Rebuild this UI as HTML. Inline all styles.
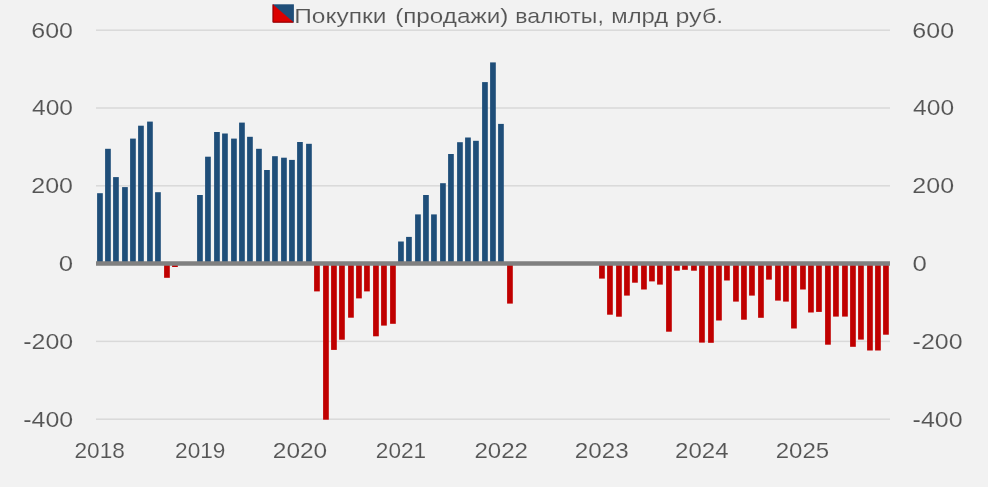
<!DOCTYPE html>
<html><head><meta charset="utf-8"><style>
html,body{margin:0;padding:0;background:#F2F2F2;}
body{width:988px;height:487px;overflow:hidden;}
svg{display:block;will-change:transform;}
.t{font-family:"Liberation Sans",sans-serif;font-size:22.2px;fill:#555555;stroke:#F2F2F2;stroke-width:0.12px;}
.ti{font-family:"Liberation Sans",sans-serif;font-size:20.5px;fill:#555555;stroke:#F2F2F2;stroke-width:0.12px;}
</style></head><body>
<svg width="988" height="487" viewBox="0 0 988 487">
<rect width="988" height="487" fill="#F2F2F2"/>
<rect x="96.0" y="29.45" width="794.0" height="1.5" fill="#D9D9D9"/>
<rect x="96.0" y="107.25" width="794.0" height="1.5" fill="#D9D9D9"/>
<rect x="96.0" y="185.05" width="794.0" height="1.5" fill="#D9D9D9"/>
<rect x="96.0" y="340.65" width="794.0" height="1.5" fill="#D9D9D9"/>
<rect x="96.0" y="418.45" width="794.0" height="1.5" fill="#D9D9D9"/>
<rect x="97.10" y="193.20" width="5.7" height="70.35" fill="#1F4E79"/>
<rect x="105.10" y="148.80" width="5.7" height="114.75" fill="#1F4E79"/>
<rect x="113.10" y="177.10" width="5.7" height="86.45" fill="#1F4E79"/>
<rect x="122.10" y="187.10" width="5.7" height="76.45" fill="#1F4E79"/>
<rect x="130.10" y="138.60" width="5.7" height="124.95" fill="#1F4E79"/>
<rect x="138.10" y="125.70" width="5.7" height="137.85" fill="#1F4E79"/>
<rect x="147.10" y="121.60" width="5.7" height="141.95" fill="#1F4E79"/>
<rect x="155.10" y="192.20" width="5.7" height="71.35" fill="#1F4E79"/>
<rect x="164.10" y="263.55" width="5.7" height="14.25" fill="#C00000"/>
<rect x="172.10" y="263.55" width="5.7" height="3.45" fill="#C00000"/>
<rect x="197.10" y="195.00" width="5.7" height="68.55" fill="#1F4E79"/>
<rect x="205.10" y="156.70" width="5.7" height="106.85" fill="#1F4E79"/>
<rect x="214.10" y="132.00" width="5.7" height="131.55" fill="#1F4E79"/>
<rect x="222.10" y="133.50" width="5.7" height="130.05" fill="#1F4E79"/>
<rect x="231.10" y="138.60" width="5.7" height="124.95" fill="#1F4E79"/>
<rect x="239.10" y="122.60" width="5.7" height="140.95" fill="#1F4E79"/>
<rect x="247.10" y="136.80" width="5.7" height="126.75" fill="#1F4E79"/>
<rect x="256.10" y="148.80" width="5.7" height="114.75" fill="#1F4E79"/>
<rect x="264.10" y="170.00" width="5.7" height="93.55" fill="#1F4E79"/>
<rect x="272.10" y="156.20" width="5.7" height="107.35" fill="#1F4E79"/>
<rect x="281.10" y="157.70" width="5.7" height="105.85" fill="#1F4E79"/>
<rect x="289.10" y="159.90" width="5.7" height="103.65" fill="#1F4E79"/>
<rect x="297.10" y="142.00" width="5.7" height="121.55" fill="#1F4E79"/>
<rect x="306.10" y="143.80" width="5.7" height="119.75" fill="#1F4E79"/>
<rect x="314.10" y="263.55" width="5.7" height="27.85" fill="#C00000"/>
<rect x="323.10" y="263.55" width="5.7" height="156.15" fill="#C00000"/>
<rect x="331.10" y="263.55" width="5.7" height="86.35" fill="#C00000"/>
<rect x="339.10" y="263.55" width="5.7" height="76.15" fill="#C00000"/>
<rect x="348.10" y="263.55" width="5.7" height="54.15" fill="#C00000"/>
<rect x="356.10" y="263.55" width="5.7" height="34.85" fill="#C00000"/>
<rect x="364.10" y="263.55" width="5.7" height="27.85" fill="#C00000"/>
<rect x="373.10" y="263.55" width="5.7" height="72.75" fill="#C00000"/>
<rect x="381.10" y="263.55" width="5.7" height="62.05" fill="#C00000"/>
<rect x="390.10" y="263.55" width="5.7" height="60.25" fill="#C00000"/>
<rect x="398.10" y="241.50" width="5.7" height="22.05" fill="#1F4E79"/>
<rect x="406.10" y="236.90" width="5.7" height="26.65" fill="#1F4E79"/>
<rect x="415.10" y="214.40" width="5.7" height="49.15" fill="#1F4E79"/>
<rect x="423.10" y="195.00" width="5.7" height="68.55" fill="#1F4E79"/>
<rect x="431.10" y="214.40" width="5.7" height="49.15" fill="#1F4E79"/>
<rect x="440.10" y="183.20" width="5.7" height="80.35" fill="#1F4E79"/>
<rect x="448.10" y="154.00" width="5.7" height="109.55" fill="#1F4E79"/>
<rect x="457.10" y="142.20" width="5.7" height="121.35" fill="#1F4E79"/>
<rect x="465.10" y="137.50" width="5.7" height="126.05" fill="#1F4E79"/>
<rect x="473.10" y="140.80" width="5.7" height="122.75" fill="#1F4E79"/>
<rect x="482.10" y="82.10" width="5.7" height="181.45" fill="#1F4E79"/>
<rect x="490.10" y="62.40" width="5.7" height="201.15" fill="#1F4E79"/>
<rect x="498.10" y="123.90" width="5.7" height="139.65" fill="#1F4E79"/>
<rect x="507.10" y="263.55" width="5.7" height="40.05" fill="#C00000"/>
<rect x="599.10" y="263.55" width="5.7" height="15.05" fill="#C00000"/>
<rect x="607.10" y="263.55" width="5.7" height="51.15" fill="#C00000"/>
<rect x="616.10" y="263.55" width="5.7" height="53.15" fill="#C00000"/>
<rect x="624.10" y="263.55" width="5.7" height="32.05" fill="#C00000"/>
<rect x="632.10" y="263.55" width="5.7" height="19.15" fill="#C00000"/>
<rect x="641.10" y="263.55" width="5.7" height="25.95" fill="#C00000"/>
<rect x="649.10" y="263.55" width="5.7" height="17.85" fill="#C00000"/>
<rect x="657.10" y="263.55" width="5.7" height="21.05" fill="#C00000"/>
<rect x="666.10" y="263.55" width="5.7" height="68.15" fill="#C00000"/>
<rect x="674.10" y="263.55" width="5.7" height="7.15" fill="#C00000"/>
<rect x="682.10" y="263.55" width="5.7" height="6.25" fill="#C00000"/>
<rect x="691.10" y="263.55" width="5.7" height="7.15" fill="#C00000"/>
<rect x="699.10" y="263.55" width="5.7" height="79.05" fill="#C00000"/>
<rect x="708.10" y="263.55" width="5.7" height="79.25" fill="#C00000"/>
<rect x="716.10" y="263.55" width="5.7" height="56.95" fill="#C00000"/>
<rect x="724.10" y="263.55" width="5.7" height="16.95" fill="#C00000"/>
<rect x="733.10" y="263.55" width="5.7" height="38.05" fill="#C00000"/>
<rect x="741.10" y="263.55" width="5.7" height="56.15" fill="#C00000"/>
<rect x="749.10" y="263.55" width="5.7" height="32.05" fill="#C00000"/>
<rect x="758.10" y="263.55" width="5.7" height="54.25" fill="#C00000"/>
<rect x="766.10" y="263.55" width="5.7" height="16.05" fill="#C00000"/>
<rect x="775.10" y="263.55" width="5.7" height="37.05" fill="#C00000"/>
<rect x="783.10" y="263.55" width="5.7" height="38.05" fill="#C00000"/>
<rect x="791.10" y="263.55" width="5.7" height="64.95" fill="#C00000"/>
<rect x="800.10" y="263.55" width="5.7" height="25.95" fill="#C00000"/>
<rect x="808.10" y="263.55" width="5.7" height="48.95" fill="#C00000"/>
<rect x="816.10" y="263.55" width="5.7" height="48.35" fill="#C00000"/>
<rect x="825.10" y="263.55" width="5.7" height="81.15" fill="#C00000"/>
<rect x="833.10" y="263.55" width="5.7" height="53.05" fill="#C00000"/>
<rect x="842.10" y="263.55" width="5.7" height="53.05" fill="#C00000"/>
<rect x="850.10" y="263.55" width="5.7" height="83.25" fill="#C00000"/>
<rect x="858.10" y="263.55" width="5.7" height="76.05" fill="#C00000"/>
<rect x="867.10" y="263.55" width="5.7" height="86.95" fill="#C00000"/>
<rect x="875.10" y="263.55" width="5.7" height="86.95" fill="#C00000"/>
<rect x="883.10" y="263.55" width="5.7" height="71.15" fill="#C00000"/>
<rect x="96.0" y="261.25" width="794.0" height="4.5" fill="#808080"/>
<text transform="translate(31.25,37.65) scale(1.1290,1)" class="t">600</text>
<text transform="translate(912.35,37.65) scale(1.1290,1)" class="t">600</text>
<text transform="translate(32.01,115.45) scale(1.1079,1)" class="t">400</text>
<text transform="translate(913.11,115.45) scale(1.1079,1)" class="t">400</text>
<text transform="translate(31.25,193.25) scale(1.1290,1)" class="t">200</text>
<text transform="translate(912.35,193.25) scale(1.1290,1)" class="t">200</text>
<text transform="translate(58.67,271.00) scale(1.1637,1)" class="t">0</text>
<text transform="translate(912.57,271.00) scale(1.1637,1)" class="t">0</text>
<text transform="translate(23.20,348.85) scale(1.1238,1)" class="t">-200</text>
<text transform="translate(912.60,348.85) scale(1.1238,1)" class="t">-200</text>
<text transform="translate(23.20,426.65) scale(1.1238,1)" class="t">-400</text>
<text transform="translate(912.60,426.65) scale(1.1238,1)" class="t">-400</text>
<text transform="translate(74.47,458.30) scale(1.0193,1)" class="t">2018</text>
<text transform="translate(175.07,458.30) scale(1.0193,1)" class="t">2019</text>
<text transform="translate(272.78,458.30) scale(1.1030,1)" class="t">2020</text>
<text transform="translate(375.87,458.30) scale(1.0193,1)" class="t">2021</text>
<text transform="translate(474.39,458.30) scale(1.0861,1)" class="t">2022</text>
<text transform="translate(574.79,458.30) scale(1.0903,1)" class="t">2023</text>
<text transform="translate(675.10,458.30) scale(1.0840,1)" class="t">2024</text>
<text transform="translate(775.70,458.30) scale(1.0840,1)" class="t">2025</text>
<rect x="272.7" y="4.3" width="21.2" height="18.2" fill="#1F4E79"/>
<polygon points="272.7,4.3 293.9,22.5 272.7,22.5" fill="#DC0000"/>
<path d="M273.2,4.6 L273.2,22 L293,22" fill="none" stroke="#A00000" stroke-width="1"/>
<text transform="translate(294.24,22.50) scale(1.1959,1)" class="ti">Покупки</text>
<text transform="translate(395.14,22.50) scale(1.1836,1)" class="ti">(продажи)</text>
<text transform="translate(515.29,22.50) scale(1.1250,1)" class="ti">валюты,</text>
<text transform="translate(611.33,22.50) scale(1.1622,1)" class="ti">млрд</text>
<text transform="translate(675.50,22.50) scale(1.2195,1)" class="ti">руб.</text>
</svg>
</body></html>
